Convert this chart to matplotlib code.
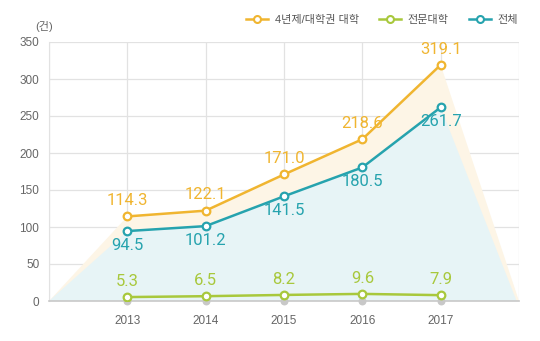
import matplotlib
matplotlib.use("Agg")
import matplotlib.pyplot as plt
from matplotlib.lines import Line2D

plt.rcParams['font.family'] = ['Liberation Sans', 'Noto Sans CJK KR', 'DejaVu Sans']

years = [2013, 2014, 2015, 2016, 2017]
univ4 = [114.3, 122.1, 171.0, 218.6, 319.1]
college = [5.3, 6.5, 8.2, 9.6, 7.9]
total = [94.5, 101.2, 141.5, 180.5, 261.7]
series_names = ["4년제/대학권 대학", "전문대학", "전체"]
yticks = [0, 50, 100, 150, 200, 250, 300, 350]

c_yel = "#F0B530"
c_grn = "#A8C83C"
c_blu = "#26A3AE"
c_grid = "#E2E2E2"
c_tick = "#666666"

fig = plt.figure(figsize=(5.4, 3.41), dpi=100)
ax = fig.add_axes([49 / 540, 40 / 341, 470 / 540, 259 / 341])

x0, x1 = years[0] - 1, years[-1] + 1
ax.set_xlim(x0, x1)
ax.set_ylim(0, 350)

# background fills
ax.fill([x0] + years + [x1], [0] + univ4 + [0], color="#FDF5E6", lw=0, zorder=1)
ax.fill([x0] + years + [x1 - 0.03], [0] + total + [0], color="#E7F4F6", lw=0, zorder=1.1)

mk = dict(marker="o", markersize=5.5, markerfacecolor="white", markeredgewidth=1.6, lw=1.8, zorder=4)
ax.plot(years, univ4, color=c_yel, **mk)
ax.plot(years, college, color=c_grn, **mk)
ax.plot(years, total, color=c_blu, **mk)

lab = dict(textcoords="offset points", ha="center", fontsize=12, family=["Roboto"], zorder=5)
for x, y in zip(years, univ4):
    ax.annotate(f"{y:.1f}", (x, y), xytext=(0, 6), va="bottom", color=c_yel, **lab)
for x, y in zip(years, total):
    ax.annotate(f"{y:.1f}", (x, y), xytext=(0, -5), va="top", color=c_blu, **lab)
for x, y in zip(years, college):
    ax.annotate(f"{y:.1f}", (x, y), xytext=(0, 6), va="bottom", color=c_grn, **lab)

# gray dots on the axis
ax.scatter(years, [0] * len(years), s=22, color="#C8C8C8", zorder=3, clip_on=False)

ax.set_xticks(list(range(x0, x1 + 1)))
ax.set_xticklabels([""] + [str(y) for y in years] + [""])
ax.set_yticks(yticks)
ax.set_yticklabels([str(t) for t in yticks])
ax.grid(True, color=c_grid, lw=0.9, zorder=0)
ax.set_axisbelow(True)
for s in ["top", "right"]:
    ax.spines[s].set_visible(False)
ax.spines["left"].set_color(c_grid)
ax.spines["bottom"].set_color("#C8C8C8")
ax.spines["bottom"].set_linewidth(1.2)
ax.tick_params(length=0, colors=c_tick, labelsize=8.5, pad=7)
ax.tick_params(axis="x", pad=10)

fig.text(44 / 540, 1 - 27 / 341, "(건)", fontsize=8, color=c_tick, ha="center", va="center")

handles = [Line2D([], [], color=c, marker="o", markersize=5, markerfacecolor="white",
                  markeredgewidth=1.5, lw=1.8) for c in (c_yel, c_grn, c_blu)]
fig.legend(handles, series_names, loc="center right", bbox_to_anchor=(528 / 540, 1 - 20 / 341),
           ncol=3, frameon=False, fontsize=8, labelcolor="#555555", handlelength=2.0,
           columnspacing=1.8, handletextpad=0.6)

fig.savefig("out.png", dpi=100)
